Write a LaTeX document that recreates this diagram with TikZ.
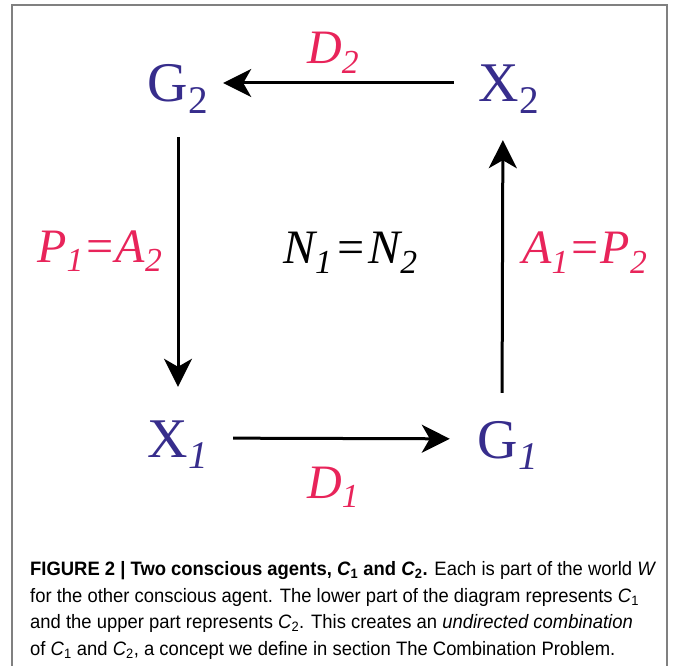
\documentclass[tikz,border=0pt]{standalone}
\usepackage{fontspec}
\setmainfont{Liberation Serif}
\newfontfamily\capfont[FakeStretch=0.95]{Liberation Sans}
\usepackage{graphicx}
\usetikzlibrary{arrows.meta}
\definecolor{agentblue}{HTML}{372D8C}
\definecolor{kernelred}{HTML}{E8245A}
\definecolor{framegray}{HTML}{808080}
\newcommand{\lowsub}[1]{\raisebox{-0.2em}{\scalebox{0.7}{#1}}}
\tikzset{
  space/.style={
    text=agentblue, inner sep=0pt, text height=38pt, text depth=0pt,
    font=\fontsize{56}{56}\selectfont
  },
  kernel/.style={
    text=kernelred, inner sep=0pt, anchor=base west,
    font=\fontsize{48}{48}\selectfont\itshape
  },
  conn/.style={
    -{Stealth[length=28pt, width=28pt, inset=8pt]}, line width=3pt
  },
  caption/.style={
    inner sep=0pt, anchor=base west, align=left,
    font=\capfont\fontsize{19.4}{26.4}\selectfont
  }
}

\begin{document}
\begin{tikzpicture}[x=1pt, y=-1pt]
  \useasboundingbox (0,0) rectangle (673,666);
  % open frame
  \draw[framegray, line width=1.5pt] (12,666) -- (12,5) -- (667,5) -- (667,666);
  % spaces
  \node[space] (g2) at (178,83) {G\lowsub{2}};
  \node[space] (x2) at (509,83) {X\lowsub{2}};
  \node[space] (x1) at (178,438) {X\lowsub{\itshape 1}};
  \node[space] (g1) at (508,439) {G\lowsub{\itshape 1}};
  % kernels
  \node[kernel] (d2) at (307,64) {D\lowsub{2}};
  \node[kernel] (d1) at (307,498) {D\lowsub{1}};
  \node[kernel] (p1a2) at (37,262) {P\lowsub{1}=A\lowsub{2}};
  \node[kernel] (a1p2) at (522,264) {A\lowsub{1}=P\lowsub{2}};
  \node[kernel, text=black] (n1n2) at (283,264)
    {N\lowsub{1}\kern2pt=\kern2pt N\lowsub{2}};
  % arrows
  \draw[conn, shorten <=25pt, shorten >=15pt] (x2) -- (g2);
  \draw[conn, shorten <=35pt, shorten >=32pt] (g2) -- (x1);
  \draw[conn, shorten <=25pt, shorten >=28pt] (x1) -- (g1);
  \draw[conn, shorten <=27pt, shorten >=38pt]
    ([xshift=-6pt]g1.north) -- ([xshift=-6pt]x2.south);
  % caption
  \node[caption] (cap) at (30,655)
    {\textbf{FIGURE 2 | Two conscious agents, \textit{C}\textsubscript{1} and \textit{C}\textsubscript{2}.} Each is part of the world \textit{W}\\
     for the other conscious agent. The lower part of the diagram represents \textit{C}\textsubscript{1}\\
     and the upper part represents \textit{C}\textsubscript{2}. This creates an \textit{undirected combination}\\
     of \textit{C}\textsubscript{1} and \textit{C}\textsubscript{2}, a concept we define in section The Combination Problem.};
\end{tikzpicture}
\end{document}
